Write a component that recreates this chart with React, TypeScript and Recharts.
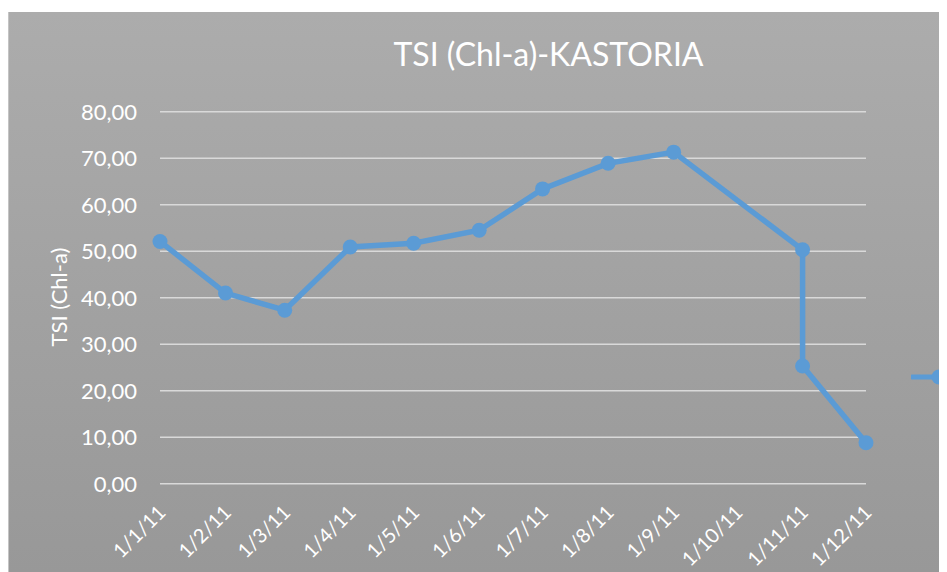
import React from 'react';
import { LineChart, Line, XAxis, YAxis, CartesianGrid, Legend } from 'recharts';

// sampling dates and TSI values
const sampleDates = [
  '2011-01-01', '2011-02-01', '2011-03-01', '2011-04-01', '2011-05-01', '2011-06-01',
  '2011-07-01', '2011-08-01', '2011-09-01', '2011-11-01', '2011-11-01', '2011-12-01',
];
const tsiValues = [52.1, 41.0, 37.3, 50.9, 51.7, 54.5, 63.4, 68.9, 71.3, 50.3, 25.3, 8.8];

const tickDates = [
  '2011-01-01', '2011-02-01', '2011-03-01', '2011-04-01', '2011-05-01', '2011-06-01',
  '2011-07-01', '2011-08-01', '2011-09-01', '2011-10-01', '2011-11-01', '2011-12-01',
];
const tickLabels = [
  '1/1/11', '1/2/11', '1/3/11', '1/4/11', '1/5/11', '1/6/11',
  '1/7/11', '1/8/11', '1/9/11', '1/10/11', '1/11/11', '1/12/11',
];
const yTicks = [0, 10, 20, 30, 40, 50, 60, 70, 80];

const DAY = 86400000;
const start = Date.UTC(2011, 0, 1);
const toDay = (s: string) => Math.round((Date.parse(s) - start) / DAY);

const data = sampleDates.map((d, i) => ({ day: toDay(d), tsi: tsiValues[i] }));
const xTicks = tickDates.map(toDay);

const FONT = 'Lato, "Open Sans", sans-serif';
const BLUE = '#5b9bd5';

const DateTick = (props: any) => {
  const { x, y, payload } = props;
  const idx = xTicks.indexOf(payload.value);
  const px = x + 7;
  const py = y + 30;
  return (
    <text
      x={px}
      y={py}
      transform={`rotate(-45, ${px}, ${py})`}
      textAnchor="end"
      fill="#fff"
      fontSize={20}
      fontFamily={FONT}
    >
      {idx >= 0 ? tickLabels[idx] : ''}
    </text>
  );
};

// only the legend symbol is inside the frame in the reference, its label is cut away
const LegendBox = () => (
  <svg width={60} height={20} style={{ display: 'block' }}>
    <line x1={1} y1={10} x2={56} y2={10} stroke={BLUE} strokeWidth={5} strokeLinecap="round" />
    <circle cx={28} cy={10} r={7.5} fill={BLUE} />
  </svg>
);

export default function App() {
  return (
    <div
      style={{
        position: 'relative',
        width: 939,
        height: 560,
        marginTop: 4,
        overflow: 'hidden',
        background: 'linear-gradient(#acacac, #989898)',
        borderLeft: '1px solid #c4c4c4',
        boxSizing: 'border-box',
      }}
    >
      <LineChart
        width={1080}
        height={560}
        data={data}
        margin={{ top: 99.7, right: 222, left: 92, bottom: 58.3 }}
        style={{ marginLeft: -1 }}
      >
        <CartesianGrid horizontal vertical={false} stroke="#d9d9d9" strokeWidth={1.5} />
        <XAxis
          dataKey="day"
          type="number"
          domain={[0, 334]}
          ticks={xTicks}
          interval={0}
          height={30}
          axisLine={false}
          tickLine={false}
          tickSize={0}
          tickMargin={0}
          tick={<DateTick />}
        />
        <YAxis
          domain={[0, 80]}
          ticks={yTicks}
          width={60}
          axisLine={false}
          tickLine={false}
          tickSize={0}
          tickMargin={23}
          tick={{ fill: '#fff', fontSize: 22, fontFamily: FONT }}
          tickFormatter={(v: number) => v.toFixed(2).replace('.', ',')}
        />
        <Legend
          layout="vertical"
          align="center"
          verticalAlign="middle"
          wrapperStyle={{ left: 903, top: 355, width: 60 }}
          content={<LegendBox />}
        />
        <Line
          type="linear"
          dataKey="tsi"
          name="TSI (Chl-a)"
          stroke={BLUE}
          strokeWidth={5.5}
          dot={{ r: 7.5, fill: BLUE, stroke: BLUE, strokeWidth: 0 }}
          activeDot={false}
          isAnimationActive={false}
        />
      </LineChart>
      <svg
        width={939}
        height={560}
        style={{ position: 'absolute', left: 0, top: 0, pointerEvents: 'none' }}
      >
        <text x={539.5} y={54} textAnchor="middle" fill="#fff" fontSize={32} fontFamily={FONT}>
          TSI (Chl-a)-KASTORIA
        </text>
        <text
          x={58}
          y={285}
          transform="rotate(-90, 58, 285)"
          textAnchor="middle"
          fill="#fff"
          fontSize={22}
          fontFamily={FONT}
        >
          TSI (Chl-a)
        </text>
      </svg>
    </div>
  );
}
